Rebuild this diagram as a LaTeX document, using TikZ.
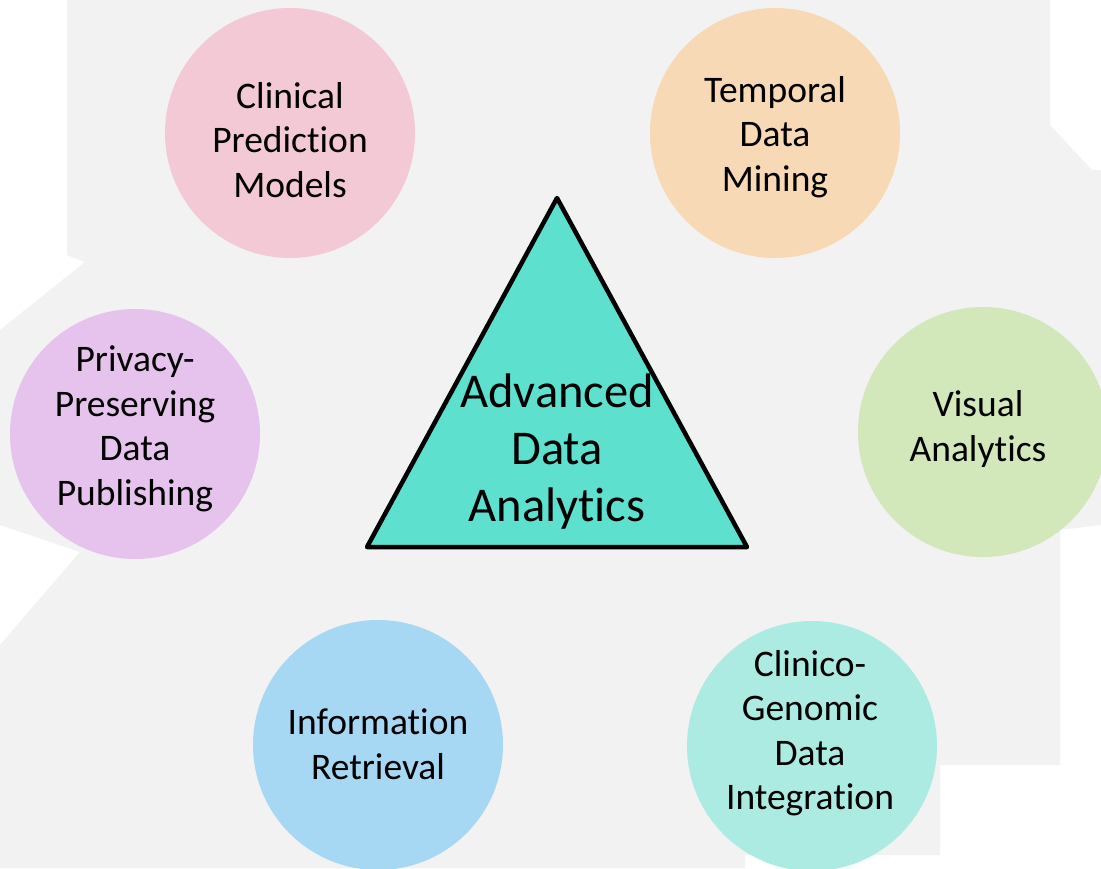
\documentclass[tikz,border=0pt]{standalone}
\usepackage{fontspec}
\setmainfont[Ligatures={NoCommon}]{Carlito}
\usepackage{tikz}
\usetikzlibrary{calc}
\definecolor{backgray}{HTML}{F2F2F2}
\definecolor{pinkish}{HTML}{F2C9D4}
\definecolor{peach}{HTML}{F7D9B5}
\definecolor{lilac}{HTML}{E6C3EC}
\definecolor{sage}{HTML}{D2E7BA}
\definecolor{skyblue}{HTML}{A6D8F4}
\definecolor{mint}{HTML}{ACEBE2}
\definecolor{turq}{HTML}{5DE0CE}
\tikzset{
	bubble/.style={circle, minimum size=250pt, inner sep=0pt},
	bubbletext/.style={align=center, inner sep=0pt, font=\fontsize{37.5}{44.5}\selectfont},
}

\begin{document}
\begin{tikzpicture}[x=1pt, y=-1pt]
			%%%%% START %%%%%
			
			\useasboundingbox (0, 0) rectangle (1101, 868);
			\fill[white] (0, 0) rectangle (1101, 868);
			\fill[backgray] (67, 0) -- (1050, 0) -- (1050, 125) -- (1092, 170) -- (1101, 170)
				-- (1101, 525) -- (1060, 530) -- (1060, 765) -- (940, 765) -- (940, 855)
				-- (745, 855) -- (745, 868) -- (0, 868) -- (0, 645) -- (80, 552) -- (0, 525)
				-- (0, 330) -- (85, 262) -- (67, 255) -- cycle;
			
			\node[bubble, fill=pinkish] (clinical) at (290, 133) {};
			\node[bubble, fill=peach] (temporal) at (775, 133) {};
			\node[bubble, fill=lilac] (privacy) at (135, 434) {};
			\node[bubble, fill=sage] (visual) at (983, 432) {};
			\node[bubble, fill=skyblue] (retrieval) at (378, 745) {};
			\node[bubble, fill=mint] (genomic) at (812, 746) {};
			
			\node[bubbletext] (clinicalTxt) at ([yshift=-7pt]clinical.center) {Clinical\\Prediction\\Models};
			\node[bubbletext] (temporalTxt) at ([yshift=-4pt]temporal.center) {Temporal\\Data\\Mining};
			\node[bubbletext] (privacyTxt) at ([yshift=5pt]privacy.center) {Privacy-\\Preserving\\Data\\Publishing};
			\node[bubbletext] (visualTxt) at ([xshift=-5pt, yshift=3pt]visual.center) {Visual\\Analytics};
			\node[bubbletext] (retrievalTxt) at ([yshift=1pt]retrieval.center) {Information\\Retrieval};
			\node[bubbletext] (genomicTxt) at ([xshift=-2pt, yshift=13pt]genomic.center) {Clinico-\\Genomic\\Data\\Integration};
			
			\coordinate (apex) at (557, 198);
			\coordinate (baseL) at (367, 547);
			\coordinate (baseR) at (747, 547);
			\draw[fill=turq, line width=4.5pt, line join=round] (apex) -- (baseL) -- (baseR) -- cycle;
			\node[align=center, inner sep=0pt, font=\fontsize{48.5}{57}\selectfont] (core) at (557, 452) {Advanced\\Data\\Analytics};
			
			%%%%% END %%%%%
		\end{tikzpicture}
\end{document}
